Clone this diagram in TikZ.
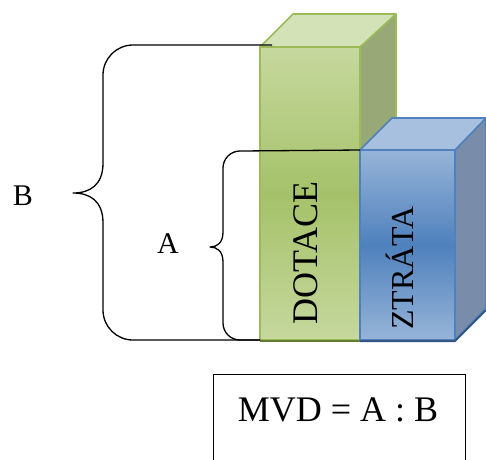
\documentclass[tikz,border=0pt]{standalone}
\usepackage{fontspec}
\setmainfont{Liberation Serif}
\usetikzlibrary{positioning,calc}
\definecolor{dtGreen}  {RGB}{155,187, 89}
\definecolor{dtGreenL} {RGB}{198,216,158}
\definecolor{dtGreenT} {RGB}{212,226,184}
\definecolor{dtGreenS} {RGB}{152,168,118}
\definecolor{dtGreenD} {RGB}{ 98,124, 50}
\definecolor{ztBlue}   {RGB}{ 79,129,189}
\definecolor{ztBlueL}  {RGB}{150,180,216}
\definecolor{ztBlueT}  {RGB}{168,192,224}
\definecolor{ztBlueS}  {RGB}{121,141,171}
\definecolor{ztBlueD}  {RGB}{ 52, 86,130}

\begin{document}
\begin{tikzpicture}[x=1pt,y=1pt,
  every node/.style={font=\fontsize{30}{36}\selectfont,inner sep=0pt},
  brace/.style={line width=1.3pt,line join=round},
  front/.style={draw=#1,line width=1.6pt,line join=round},
  side/.style ={draw=#1,line width=1.6pt,line join=round},
  rotlab/.style={rotate=90,anchor=center}
]
\useasboundingbox (0,0) rectangle (486,-459);

% DOTACE column
\coordinate (g1) at (260,-47);
\coordinate (g2) at (360,-340);
\fill[dtGreenS,side=dtGreen] (360,-47) -- (396,-14) -- (396,-307) -- (360,-340) -- cycle;
\fill[dtGreenT,side=dtGreen] (g1) -- (293,-14) -- (396,-14) -- (360,-47) -- cycle;
\shade[top color=dtGreenL,bottom color=dtGreenL,middle color=dtGreen!90!white]
  (g1) rectangle (g2);
\draw[front=dtGreen] (g1) rectangle (g2);
\draw[dtGreenD,line width=1.6pt] (260,-341) -- (360,-341);

% ZTRATA column
\coordinate (z1) at (360,-150);
\coordinate (z2) at (455,-340);
\fill[ztBlueS,side=ztBlue] (455,-150) -- (486,-118) -- (486,-308) -- (455,-340) -- cycle;
\fill[ztBlueT,side=ztBlue] (z1) -- (392,-118) -- (486,-118) -- (455,-150) -- cycle;
\shade[top color=ztBlueL,bottom color=ztBlueL,middle color=ztBlue]
  (z1) rectangle (z2);
\draw[front=ztBlue] (z1) rectangle (z2);
\draw[ztBlueD,line width=2pt,line join=round] (360,-341) -- (455,-341) -- (486,-310);

\node[rotlab,font=\fontsize{36}{40}\selectfont] (dotace) at (306,-253) {DOTACE};
\node[rotlab,font=\fontsize{32}{36}\selectfont] (ztrata) at (400,-268) {ZTRÁTA};

% braces
\coordinate (bTop) at (272,-45);
\coordinate (bBot) at (260,-340);
\coordinate (aTop) at (z1);
\coordinate (aBot) at (260,-340);
\draw[brace] (bTop) -- (133,-45) arc[start angle=90,end angle=180,radius=30]
  -- (103,-163) .. controls (103,-185) and (90,-193) .. (73,-193)
  .. controls (90,-193) and (103,-201) .. (103,-223)
  -- (103,-310) arc[start angle=180,end angle=270,radius=30] -- (bBot);
\draw[brace] (aTop) -- (240,-151) arc[start angle=90,end angle=180,radius=17]
  -- (223,-232) .. controls (223,-243) and (217,-247) .. (210,-247)
  .. controls (217,-247) and (223,-251) .. (223,-262)
  -- (223,-323) arc[start angle=180,end angle=270,radius=17] -- (aBot);

\node (B) at (23,-196) {B};
\node (A) at (168,-244) {A};

% formula box
\node[draw,line width=1.2pt,minimum width=252pt,minimum height=100pt,
      anchor=north west] (mvd) at (213,-374) {};
\node[font=\fontsize{36}{40}\selectfont] (formula) at (338,-410) {MVD = A : B};
\end{tikzpicture}
\end{document}
